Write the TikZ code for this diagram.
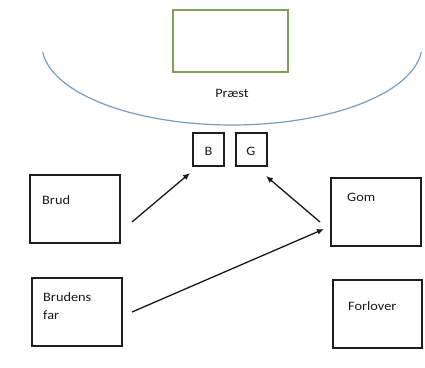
\documentclass[tikz,border=0pt]{standalone}
\usepackage{fontspec}
\setmainfont{Carlito}[FakeStretch=1.12]
\usetikzlibrary{arrows.meta}
\definecolor{altargreen}{RGB}{128,160,90}
\definecolor{arcblue}{RGB}{120,155,195}
\definecolor{boxline}{RGB}{30,30,30}
\begin{document}
\begin{tikzpicture}[x=1pt,y=-1pt,
  box/.style={draw=boxline,line width=1.3pt},
  lbl/.style={inner sep=0pt,anchor=base west,font=\fontsize{12.8}{15.5}\selectfont,text=black!90},
  clbl/.style={inner sep=0pt,anchor=base,font=\fontsize{12.8}{15.5}\selectfont,text=black!90},
  arr/.style={draw=black!90,line width=1.3pt,-{Latex[length=7pt,width=6pt]}}]
\useasboundingbox (0,0) rectangle (425,367);
% altar
\draw[draw=altargreen,line width=1.1pt] (173,10) rectangle (288,72);
% arc
\draw[arcblue,line width=1.2pt] plot[domain=185:355,samples=80,smooth] ({232+190*cos(\x)},{45-80*sin(\x)});
\node[clbl] (praest) at (232,97) {Præst};
% B and G
\draw[box] (193,133) rectangle (224,166);
\node[clbl] (b) at (208.5,155) {B};
\draw[box] (236,133) rectangle (267,166);
\node[clbl] (g) at (251,155) {G};
% Brud
\draw[box] (30,175) rectangle (120,243);
\node[lbl] (brud) at (42,204) {Brud};
% Gom
\draw[box] (331,178) rectangle (421,246);
\node[lbl] (gom) at (347,201.5) {Gom};
% Brudens far
\draw[box] (32,278) rectangle (122,346);
\node[lbl] (bf1) at (43,301) {Brudens};
\node[lbl] (bf2) at (43,319) {far};
% Forlover
\draw[box] (333,280) rectangle (422,348);
\node[lbl] (forl) at (348,310) {Forlover};
% arrows
\coordinate (a1s) at (132,222);
\coordinate (a1e) at (190,173);
\coordinate (a2s) at (320,222);
\coordinate (a2e) at (266,176);
\coordinate (a3s) at (132,312);
\coordinate (a3e) at (324,229);
\draw[arr] (a1s) -- (a1e);
\draw[arr] (a2s) -- (a2e);
\draw[arr] (a3s) -- (a3e);
\end{tikzpicture}
\end{document}
